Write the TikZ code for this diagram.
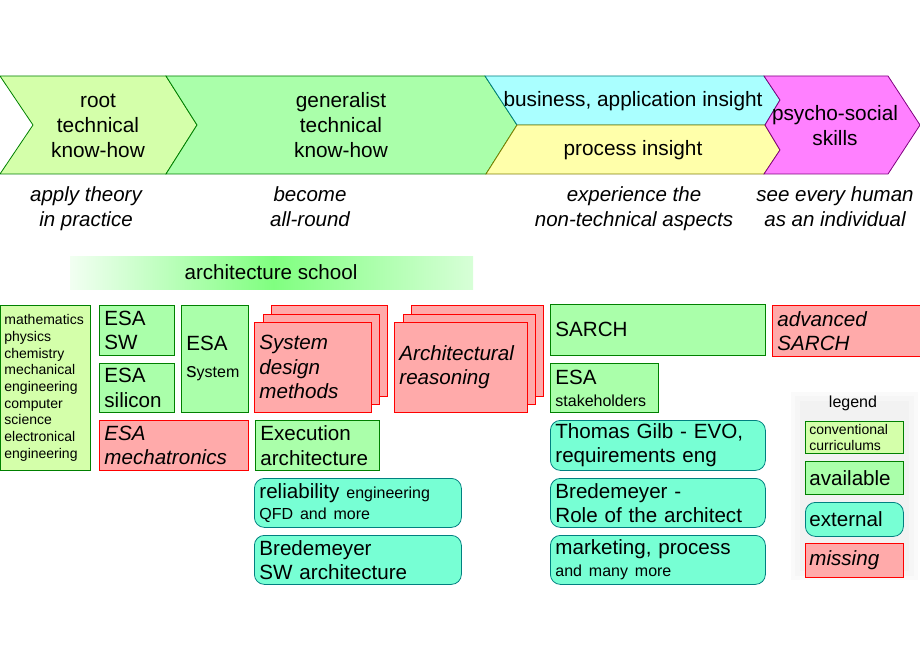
\documentclass[tikz,border=0pt]{standalone}
\usepackage{fontspec}
\setmainfont{Liberation Sans}
\definecolor{convgreen}{RGB}{212,255,170}
\definecolor{availgreen}{RGB}{170,255,170}
\definecolor{cyanfill}{RGB}{170,255,255}
\definecolor{yellowfill}{RGB}{255,255,170}
\definecolor{magfill}{RGB}{255,128,255}
\definecolor{missfill}{RGB}{255,170,170}
\definecolor{extfill}{RGB}{119,255,212}
\definecolor{greenborder}{RGB}{0,128,0}
\definecolor{tealborder}{RGB}{0,128,128}
\definecolor{oliveborder}{RGB}{128,128,0}
\definecolor{purpleborder}{RGB}{128,0,128}
\definecolor{archL}{RGB}{242,255,242}
\definecolor{archG}{RGB}{128,255,128}
\definecolor{archR}{RGB}{215,255,215}
\newcommand{\bigf}{\fontsize{20.6}{24.5}\selectfont}
\newcommand{\smf}{\fontsize{16}{21}\selectfont}
\newcommand{\tinyf}{\fontsize{14}{16.7}\selectfont}
\tikzset{
  box/.style={draw, line width=0.8pt, anchor=north west, inner xsep=5pt, inner ysep=0pt, align=left, font=\bigf},
  avail/.style={box, fill=availgreen, draw=greenborder},
  conv/.style={box, fill=convgreen, draw=greenborder},
  miss/.style={box, fill=missfill, draw=red, font=\bigf\itshape},
  ext/.style={box, fill=extfill, draw=tealborder, rounded corners=10pt},
  chev/.style={line width=0.8pt},
  chevtext/.style={align=center, font=\fontsize{20.8}{25}\selectfont},
  caption/.style={align=center, font=\fontsize{20.5}{24.5}\selectfont\itshape},
}
\begin{document}
\begin{tikzpicture}[x=1pt,y=-1pt]
\useasboundingbox (0,0) rectangle (920,660);
% chevrons
\filldraw[chev, fill=convgreen, draw=greenborder] (0,76) -- (166,76) -- (197,125) -- (166,174) -- (0,174) -- (33,125) -- cycle;
\filldraw[chev, fill=availgreen, draw=greenborder] (166,76) -- (485,76) -- (517,125) -- (486,174) -- (166,174) -- (197,125) -- cycle;
\filldraw[chev, fill=cyanfill, draw=tealborder] (485,76) -- (764,76) -- (780,100) -- (765,125) -- (517,125) -- cycle;
\filldraw[chev, fill=yellowfill, draw=oliveborder] (517,125) -- (765,125) -- (780,150) -- (764,174) -- (486,174) -- cycle;
\filldraw[chev, fill=magfill, draw=purpleborder] (764,76) -- (888,76) -- (920,125) -- (888,174) -- (764,174) -- (780,150) -- (765,125) -- (780,100) -- cycle;
\node[chevtext] (root) at (98,125.5) {root\\technical\\know-how};
\node[chevtext] (gen) at (341,125.5) {generalist\\technical\\know-how};
\node[chevtext] (bus) at (633,101.5) {business, application insight};
\node[chevtext] (proc) at (633,150.5) {process insight};
\node[chevtext] (psy) at (835,125.5) {psycho-social\\skills};
% captions
\node[caption] (cap1) at (86,208.5) {apply theory\\in practice};
\node[caption] (cap2) at (310,206.5) {become\\all-round};
\node[caption] (cap3) at (634,208.5) {experience the\\non-technical aspects};
\node[caption] (cap4) at (835,206.5) {see every human\\as an individual};
% architecture school band
\shade[left color=archL, right color=archG] (70,256) rectangle (273,289);
\shade[left color=archG, right color=archR] (273,256) rectangle (473,289);
\node[font=\bigf] (school) at (271,272) {architecture school};
% conventional
\node[conv, font=\tinyf, inner xsep=4pt, text width=82pt, minimum width=90pt, minimum height=165pt] (cv) at (0,305)
  {mathematics\\physics\\chemistry\\mechanical\\engineering\\computer\\science\\electronical\\engineering};
% ESA boxes
\node[avail, text width=65pt, minimum height=50pt] (esasw) at (99,305) {ESA\\SW};
\node[avail, text width=65pt, minimum height=49pt] (esasi) at (99,363) {ESA\\silicon};
\node[avail, text width=57pt, minimum height=107pt] (esasy) at (181,305) {ESA\\[2.5pt]s{\smf ystem}};
\node[miss, text width=139pt, minimum height=50pt] (esame) at (99,420) {ESA\\mechatronics};
% system design methods stack
\node[miss, text width=106pt, minimum height=91pt] (sdm3) at (271,305) {};
\node[miss, text width=106pt, minimum height=90pt] (sdm2) at (263,314) {};
\node[miss, text width=107pt, minimum height=90pt] (sdm) at (254,322) {System\\design\\methods};
\node[avail, text width=114pt, minimum height=50pt] (exe) at (255,420) {Execution\\architecture};
% architectural reasoning stack
\node[miss, text width=122pt, minimum height=91pt] (ar3) at (411,305) {};
\node[miss, text width=122pt, minimum height=90pt] (ar2) at (403,314) {};
\node[miss, text width=123pt, minimum height=90pt] (ar) at (394,322) {Architectural\\reasoning};
% external boxes left
\node[ext, text width=197pt, minimum height=49pt] (rel) at (254,478) {reliability {\smf engineering}\\[-3.5pt]{\smf QFD and more}};
\node[ext, text width=197pt, minimum height=49pt] (bsw) at (254,535) {Bredemeyer\\SW architecture};
% right column
\node[avail, text width=205pt, minimum height=51pt] (sarch) at (550,304) {SARCH};
\node[miss, text width=140pt, minimum height=51pt] (asarch) at (772,305) {advanced\\SARCH};
\node[avail, text width=98pt, minimum height=49pt] (esast) at (550,363) {ESA\\[-2.5pt]{\smf stakeholders}};
\node[ext, text width=205pt, minimum height=50pt] (gilb) at (550,420) {Thomas Gilb - EVO,\\requirements eng};
\node[ext, text width=205pt, minimum height=49pt] (brole) at (550,478) {Bredemeyer -\\Role of the architect};
\node[ext, text width=205pt, minimum height=49pt] (mkt) at (550,535) {marketing, process\\[-2pt]{\smf and many more}};
% legend
\fill[gray!4] (791,392) rectangle (918,580);
\fill[gray!7] (795,396) rectangle (914,576);
\fill[gray!10] (800,401) rectangle (909,571);
\node[font=\smf] (leg) at (853,403) {legend};
\node[conv, font=\fontsize{14}{16.5}\selectfont, inner xsep=4pt, text width=90pt, minimum height=32pt] (lconv) at (805,421) {conventional\\curriculums};
\node[avail, inner xsep=4pt, text width=90pt, minimum height=33pt] (lavail) at (805,461) {available};
\node[ext, inner xsep=4pt, text width=90pt, minimum height=34pt] (lext) at (805,502) {external};
\node[miss, inner xsep=4pt, text width=90pt, minimum height=34pt] (lmiss) at (805,543) {missing};
\end{tikzpicture}
\end{document}
